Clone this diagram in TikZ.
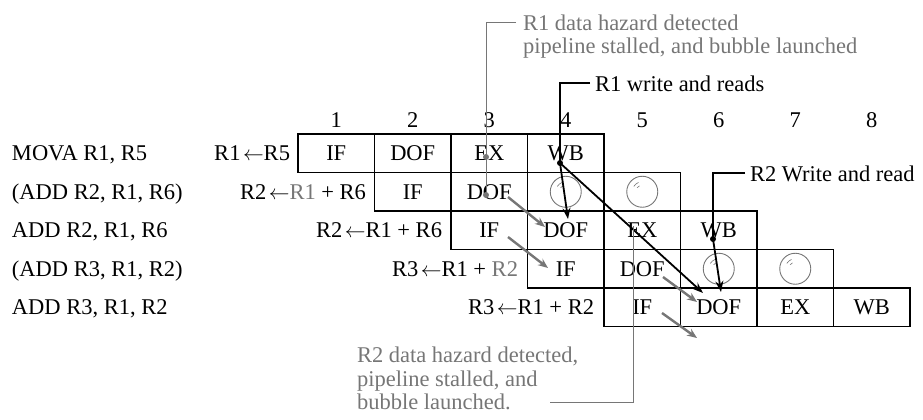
\documentclass[tikz,border=0pt]{standalone}
\usepackage{fontspec}
\setmainfont{Liberation Serif}
\usetikzlibrary{arrows.meta,calc}
\definecolor{hl}{RGB}{118,118,118}
\tikzset{
  cell/.style={draw, line width=1.8pt, minimum width=76.5pt, minimum height=38.5pt, inner sep=0pt, outer sep=0pt},
  lab/.style={inner sep=0pt, outer sep=0pt},
  bub/.style={draw=hl, line width=0.9pt, circle, minimum size=31pt, inner sep=0pt},
  dotn/.style={circle, fill, inner sep=0pt, minimum size=6pt},
  garrow/.style={hl, line width=2.4pt, -{Stealth[length=10pt,width=8pt]}},
  barrow/.style={black, line width=1.8pt, -{Stealth[length=11pt,width=8pt]}},
  gline/.style={hl, line width=1pt},
  bline/.style={black, line width=1.2pt},
  shine/.style={hl, line width=0.6pt},
}
\newcommand\bubbleat[1]{%
  \node[bub] (b#1) at (c#1) {};
  \draw[shine] ($(c#1)+(212:10)$) arc[start angle=212, end angle=248, radius=10];
  \draw[shine] ($(c#1)+(218:6.5)$) arc[start angle=218, end angle=245, radius=6.5];
}
\newcommand\la{\kern2.5pt$\leftarrow$}
\begin{document}
\begin{tikzpicture}[x=1pt,y=-1pt,font=\fontsize{22.5}{24}\selectfont]
\useasboundingbox (0,0) rectangle (923,420);

% clock cycle numbers
\foreach \k in {1,...,8} \node[lab, anchor=base] (n\k) at ({336.25+76.5*(\k-1)},127.5) {\k};

% instruction column
\node[lab, anchor=base west] (l1) at (12,160.75) {MOVA R1, R5};
\node[lab, anchor=base west] (l2) at (12,199.25) {(ADD R2, R1, R6)};
\node[lab, anchor=base west] (l3) at (12,237.75) {ADD R2, R1, R6};
\node[lab, anchor=base west] (l4) at (12,276.25) {(ADD R3, R1, R2)};
\node[lab, anchor=base west] (l5) at (12,314.75) {ADD R3, R1, R2};

% register transfers
\node[lab, anchor=base east] (m1) at (290,160.75) {R1\la R5};
\node[lab, anchor=base east] (m2) at (366,199.25) {R2\la\textcolor{hl}{R1} + R6};
\node[lab, anchor=base east] (m3) at (442,237.75) {R2\la R1 + R6};
\node[lab, anchor=base east] (m4) at (518,276.25) {R3\la R1 + \textcolor{hl}{R2}};
\node[lab, anchor=base east] (m5) at (594,314.75) {R3\la R1 + R2};

% pipeline cells
\node[cell] (c11) at (336.25,153.25) {IF};
\node[cell] (c12) at (412.75,153.25) {DOF};
\node[cell] (c13) at (489.25,153.25) {EX};
\node[cell] (c14) at (565.75,153.25) {WB};

\node[cell] (c22) at (412.75,191.75) {IF};
\node[cell] (c23) at (489.25,191.75) {DOF};
\node[cell] (c24) at (565.75,191.75) {};
\node[cell] (c25) at (642.25,191.75) {};

\node[cell] (c33) at (489.25,230.25) {IF};
\node[cell] (c34) at (565.75,230.25) {DOF};
\node[cell] (c35) at (642.25,230.25) {EX};
\node[cell] (c36) at (718.75,230.25) {WB};

\node[cell] (c44) at (565.75,268.75) {IF};
\node[cell] (c45) at (642.25,268.75) {DOF};
\node[cell] (c46) at (718.75,268.75) {};
\node[cell] (c47) at (795.25,268.75) {};

\node[cell] (c55) at (642.25,307.25) {IF};
\node[cell] (c56) at (718.75,307.25) {DOF};
\node[cell] (c57) at (795.25,307.25) {EX};
\node[cell] (c58) at (871.75,307.25) {WB};

% bubbles
\bubbleat{24}
\bubbleat{25}
\bubbleat{46}
\bubbleat{47}

% R1 hazard annotation (gray)
\node[lab, anchor=base west, text=hl] (t1a) at (523,30.5) {R1 data hazard detected};
\node[lab, anchor=base west, text=hl] (t1b) at (523,53.5) {pipeline stalled, and bubble launched};
\coordinate (g1e) at (516,23);
\coordinate (g1) at (486,23);
\node[dotn, hl] (d1) at ($(c13)+(-3.25,3.75)$) {};
\node[dotn, hl] (d2) at ($(c23)+(-3.25,3.25)$) {};
\draw[gline] (g1e) -- (g1) -- (d2.center);

% R1 write and reads (black)
\node[lab, anchor=base west] (t2) at (595,91) {R1 write and reads};
\coordinate (k1e) at (590,83);
\coordinate (k1) at (560,83);
\node[dotn] (k1d) at ($(c14)+(-5.75,9.75)$) {};
\draw[bline] (k1e) -- (k1) -- (k1d.center);
\coordinate (e1) at ($(c34)+(2.25,-11.25)$);
\coordinate (e2) at ($(c56)+(-15.75,-14.25)$);
\draw[barrow] (k1d.center) -- (e1);
\draw[barrow] (k1d.center) -- (e2);

% R2 write and read (black)
\node[lab, anchor=base west] (t3) at (750,181) {R2 Write and read};
\coordinate (k2e) at (745,173);
\coordinate (k2) at (713,173);
\node[dotn] (k2d) at ($(c36)+(-5.75,8.75)$) {};
\draw[bline] (k2e) -- (k2) -- (k2d.center);
\coordinate (e3) at ($(c56)+(2.25,-15.25)$);
\draw[barrow] (k2d.center) -- (e3);

% gray stall arrows
\draw[garrow] ($(c23)+(18.75,5.25)$) -- ($(c34)+(-20.75,-3.25)$);
\draw[garrow] ($(c33)+(18.75,6.75)$) -- ($(c44)+(-17.75,-0.75)$);
\draw[garrow] ($(c45)+(20.75,8.25)$) -- ($(c56)+(-21.75,-5.25)$);
\coordinate (f4) at (697,338);
\draw[garrow] ($(c55)+(19.75,5.75)$) -- (f4);

% R2 hazard annotation (gray)
\node[lab, anchor=base west, text=hl] (t4a) at (357,362.5) {R2 data hazard detected,};
\node[lab, anchor=base west, text=hl] (t4b) at (357,386) {pipeline stalled, and};
\node[lab, anchor=base west, text=hl] (t4c) at (357,409.5) {bubble launched.};
\coordinate (h1) at (550,402);
\coordinate (h2) at (633,402);
\coordinate (h3) at ($(c35)+(-9.25,-4)$);
\draw[gline] (h1) -- (h2) -- (h3);
\end{tikzpicture}
\end{document}
